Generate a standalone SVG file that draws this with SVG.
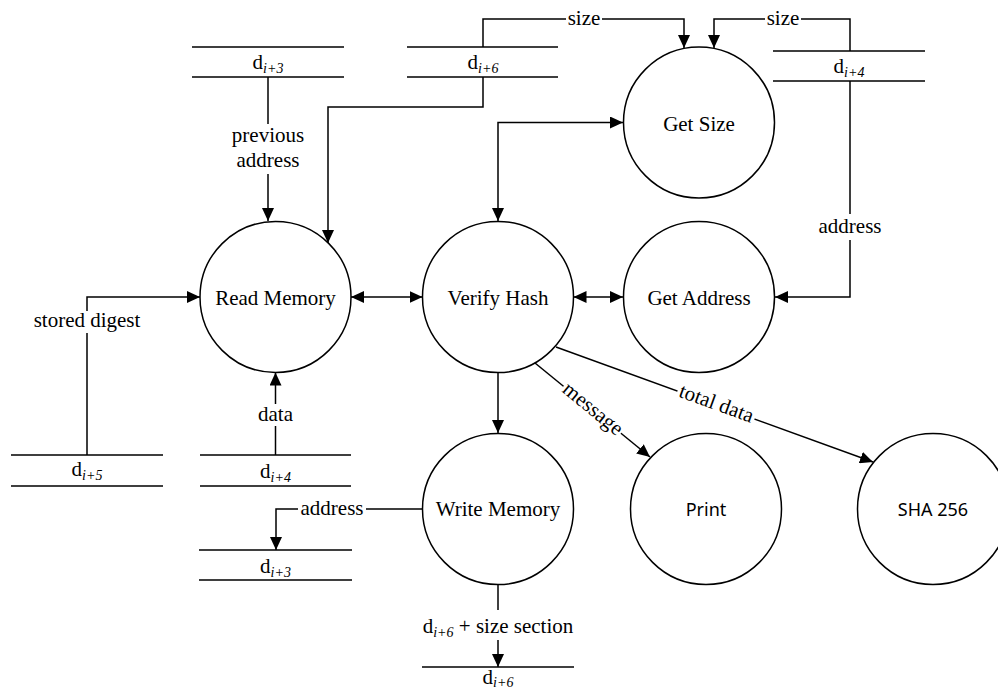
<svg xmlns="http://www.w3.org/2000/svg" width="998" height="692" viewBox="0 0 998 692">
  <style>
    .bg { fill: #ffffff; }
    .proc { fill: #ffffff; stroke: #000000; stroke-width: 1.5; }
    .store { fill: none; stroke: #000000; stroke-width: 1.5; }
    .flow { fill: none; stroke: #000000; stroke-width: 1.5; }
    .arrow { marker-end: url(#ah); }
    .both { marker-start: url(#ah); marker-end: url(#ah); }
    .t { font-family: "Liberation Serif", "Times New Roman", serif; font-size: 21px; fill: #000000; text-anchor: middle; }
    .s { font-family: "Noto Sans", "Open Sans", sans-serif; font-size: 18px; fill: #000000; text-anchor: middle; }
    .sub { font-style: italic; font-size: 14px; }
    .gap { fill: #ffffff; stroke: none; }
  </style>
  <defs>
    <marker id="ah" viewBox="0 0 13 12" refX="13" refY="6" markerWidth="13" markerHeight="12" markerUnits="userSpaceOnUse" orient="auto-start-reverse">
      <path d="M0,0 L13,6 L0,12 z" fill="#000000"/>
    </marker>
  </defs>

  <rect class="bg" x="0" y="0" width="998" height="692"/>

  <!-- data flows -->
  <g id="connectors">
    <g id="f-prev-address">
      <path class="flow arrow" d="M268,77 L268,221"/>
      <rect class="gap" x="230" y="124" width="76" height="50"/>
      <text class="t" x="268" y="142">previous</text>
      <text class="t" x="268" y="167">address</text>
    </g>
    <g id="f-d6-read">
      <path class="flow arrow" d="M483,77 L483,107 L328,107 L328,243"/>
    </g>
    <g id="f-d6-size">
      <path class="flow arrow" d="M483,47 L483,19 L684,19 L684,48"/>
      <rect class="gap" x="566" y="10" width="36" height="18"/>
      <text class="t" x="584" y="25">size</text>
    </g>
    <g id="f-d4-size">
      <path class="flow arrow" d="M850,51 L850,19 L714,19 L714,48"/>
      <rect class="gap" x="765" y="10" width="36" height="18"/>
      <text class="t" x="783" y="25">size</text>
    </g>
    <g id="f-d4-address">
      <path class="flow arrow" d="M850,81 L850,297 L775,297"/>
      <rect class="gap" x="817" y="214" width="66" height="26"/>
      <text class="t" x="850" y="233">address</text>
    </g>
    <g id="f-verify-size">
      <path class="flow both" d="M623,122.5 L498,122.5 L498,221"/>
    </g>
    <g id="f-read-verify">
      <path class="flow both" d="M351,297 L422.5,297"/>
    </g>
    <g id="f-verify-addr">
      <path class="flow both" d="M573.5,297 L623,297"/>
    </g>
    <g id="f-digest">
      <path class="flow arrow" d="M87,455 L87,297 L200,297"/>
      <rect class="gap" x="32" y="311" width="110" height="22"/>
      <text class="t" x="87" y="327">stored digest</text>
    </g>
    <g id="f-data">
      <path class="flow arrow" d="M275.5,455 L275.5,372.5"/>
      <rect class="gap" x="259" y="404" width="33" height="22"/>
      <text class="t" x="275.5" y="421">data</text>
    </g>
    <g id="f-verify-write">
      <path class="flow arrow" d="M498,372.5 L498,433"/>
    </g>
    <g id="f-message">
      <path class="flow arrow" d="M535,363 L650,457"/>
      <g transform="translate(592,410) rotate(39.3)">
        <rect class="gap" x="-37" y="-10" width="74" height="20"/>
        <text class="t" x="0" y="5">message</text>
      </g>
    </g>
    <g id="f-total">
      <path class="flow arrow" d="M556,347 L873,462"/>
      <g transform="translate(716,405) rotate(19.9)">
        <rect class="gap" x="-41" y="-10" width="82" height="20"/>
        <text class="t" x="0" y="5">total data</text>
      </g>
    </g>
    <g id="f-write-addr">
      <path class="flow arrow" d="M422.5,509 L276,509 L276,550"/>
      <rect class="gap" x="298" y="498" width="68" height="22"/>
      <text class="t" x="332" y="515">address</text>
    </g>
    <g id="f-write-d6">
      <path class="flow arrow" d="M498,584.5 L498,667"/>
      <rect class="gap" x="420" y="610" width="156" height="30"/>
      <text class="t" x="498" y="633">d<tspan class="sub" dy="4">i+6</tspan><tspan dy="-4"> + size section</tspan></text>
    </g>
  </g>

  <!-- processes -->
  <g id="read-memory">
    <circle class="proc" cx="275.5" cy="297" r="75.5"/>
    <text class="t" x="275.5" y="305">Read Memory</text>
  </g>
  <g id="verify-hash">
    <circle class="proc" cx="498" cy="297" r="75.5"/>
    <text class="t" x="498" y="305">Verify Hash</text>
  </g>
  <g id="get-address">
    <circle class="proc" cx="699" cy="297" r="75.5"/>
    <text class="t" x="699" y="305">Get Address</text>
  </g>
  <g id="get-size">
    <circle class="proc" cx="699" cy="122.5" r="75.5"/>
    <text class="t" x="699" y="130.5">Get Size</text>
  </g>
  <g id="write-memory">
    <circle class="proc" cx="498" cy="509" r="75.5"/>
    <text class="t" x="498" y="516">Write Memory</text>
  </g>
  <g id="print">
    <circle class="proc" cx="706" cy="509" r="75.5"/>
    <text class="s" x="706" y="516">Print</text>
  </g>
  <g id="sha256">
    <circle class="proc" cx="933" cy="509" r="75.5"/>
    <text class="s" x="933" y="516">SHA 256</text>
  </g>

  <!-- data stores -->
  <g id="store-d3-top">
    <path class="store" d="M192,47 L344,47 M192,77 L344,77"/>
    <text class="t" x="268" y="69">d<tspan class="sub" dy="4">i+3</tspan></text>
  </g>
  <g id="store-d6-top">
    <path class="store" d="M407,47 L558,47 M407,77 L558,77"/>
    <text class="t" x="483" y="69">d<tspan class="sub" dy="4">i+6</tspan></text>
  </g>
  <g id="store-d4-top">
    <path class="store" d="M773,51 L925,51 M773,81 L925,81"/>
    <text class="t" x="849" y="73">d<tspan class="sub" dy="4">i+4</tspan></text>
  </g>
  <g id="store-d5">
    <path class="store" d="M11,455 L163,455 M11,486 L163,486"/>
    <text class="t" x="87" y="476">d<tspan class="sub" dy="4">i+5</tspan></text>
  </g>
  <g id="store-d4-bottom">
    <path class="store" d="M200,455 L351,455 M200,486 L351,486"/>
    <text class="t" x="275.5" y="478">d<tspan class="sub" dy="4">i+4</tspan></text>
  </g>
  <g id="store-d3-bottom">
    <path class="store" d="M199,550 L352,550 M199,580 L352,580"/>
    <text class="t" x="275.5" y="573">d<tspan class="sub" dy="4">i+3</tspan></text>
  </g>
  <g id="store-d6-bottom">
    <path class="store" d="M422,667 L574,667"/>
    <text class="t" x="498" y="684">d<tspan class="sub" dy="3">i+6</tspan></text>
  </g>
</svg>
